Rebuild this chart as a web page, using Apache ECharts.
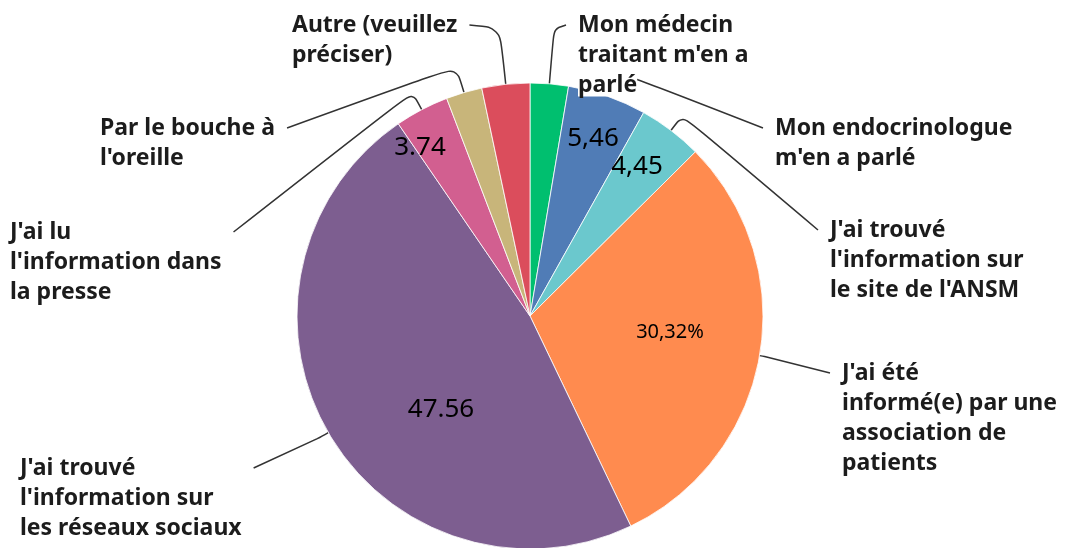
<!DOCTYPE html>
<html>
<head>
<meta charset="utf-8">
<script src="https://cdn.jsdelivr.net/npm/echarts@6/dist/echarts.min.js"></script>
<style>
html, body { margin: 0; padding: 0; background: #fff; }
#chart { width: 1070px; height: 548px; }
</style>
</head>
<body>
<div id="chart"></div>
<script>
// donnees (sens horaire depuis midi)
var names = [
	"Mon médecin\ntraitant m'en a\n{bg|parlé}",
	"Mon endocrinologue\nm'en a parlé",
	"J'ai trouvé\nl'information sur\nle site de l'ANSM",
	"J'ai été\ninformé(e) par une\nassociation de\npatients",
	"J'ai trouvé\nl'information sur\nles réseaux sociaux",
	"J'ai lu\nl'information dans\nla presse",
	"Par le bouche à\nl'oreille",
	"Autre (veuillez\npréciser)"
];
var values = [2.65, 5.46, 4.45, 30.32, 47.56, 3.74, 2.5, 3.32];
var innerLabels = ['', '5,46', '4,45', '30,32%', '47.56', '3.74', '', ''];

var colors = ['#00BF6F', '#507CB6', '#6BC8CD', '#FF8B4F', '#7D5E90', '#D25F90', '#C8B57A', '#DB4D5C'];

// placement des etiquettes (coin haut-gauche du texte)
var labelPos = [[578, 10], [775, 113], [830, 215], [842, 358], [20, 453], [10, 217], [100, 113], [292, 10]];
var lineLen = [55, 27, 19, 5, 12, 20, 27, 57];
var innerPos = [[0, 0], [593, 139], [637, 167], [670, 332], [441, 410], [420, 148], [0, 0], [0, 0]];
var innerSize = [26, 26, 26, 20, 26, 26, 26, 26];

var CENTER = [530, 316];
var RADIUS = 233;

var myChart = echarts.init(document.getElementById('chart'));

var outerData = values.map(function (v, i) {
	return {
		value: v,
		name: names[i],
		itemStyle: { color: colors[i] },
		labelLine: { length: lineLen[i], length2: 10 }
	};
});
var innerData = values.map(function (v, i) {
	return {
		value: v,
		name: innerLabels[i],
		label: { fontSize: innerSize[i] }
	};
});

myChart.setOption({
	animation: false,
	series: [
		{
			type: 'pie',
			center: CENTER,
			radius: RADIUS,
			startAngle: 90,
			clockwise: true,
			avoidLabelOverlap: false,
			itemStyle: {
				borderColor: '#fff',
				borderWidth: 0.8
			},
			emphasis: { disabled: true },
			label: {
				show: true,
				position: 'outside',
				formatter: '{b}',
				fontFamily: 'Noto Sans',
				fontWeight: 'bold',
				fontSize: 23,
				lineHeight: 30,
				color: '#1c1c1c',
				rich: {
					bg: {
						fontFamily: 'Noto Sans',
						fontWeight: 'bold',
						fontSize: 23,
						lineHeight: 30,
						color: '#1c1c1c',
						backgroundColor: '#fff'
					}
				}
			},
			labelLine: {
				show: true,
				smooth: 0.3,
				lineStyle: { color: '#333', width: 1.5 }
			},
			labelLayout: function (params) {
				var i = params.dataIndex;
				var p = labelPos[i];
				var pts = params.labelLinePoints;
				var w = params.labelRect.width;
				var end = i < 4 ? [p[0] - 12, p[1] + 15] : [p[0] + w + 12, p[1] + 15];
				return {
					x: p[0],
					y: p[1],
					align: 'left',
					verticalAlign: 'top',
					labelLinePoints: [pts[0], pts[1], end]
				};
			},
			data: outerData
		},
		{
			type: 'pie',
			center: CENTER,
			radius: RADIUS,
			startAngle: 90,
			clockwise: true,
			silent: true,
			itemStyle: { color: 'rgba(0,0,0,0)' },
			emphasis: { disabled: true },
			label: {
				show: true,
				position: 'inside',
				formatter: '{b}',
				fontFamily: 'Noto Sans',
				color: '#000'
			},
			labelLine: { show: false },
			labelLayout: function (params) {
				var p = innerPos[params.dataIndex];
				return { x: p[0], y: p[1], align: 'center', verticalAlign: 'middle' };
			},
			data: innerData
		}
	]
});
</script>
</body>
</html>
